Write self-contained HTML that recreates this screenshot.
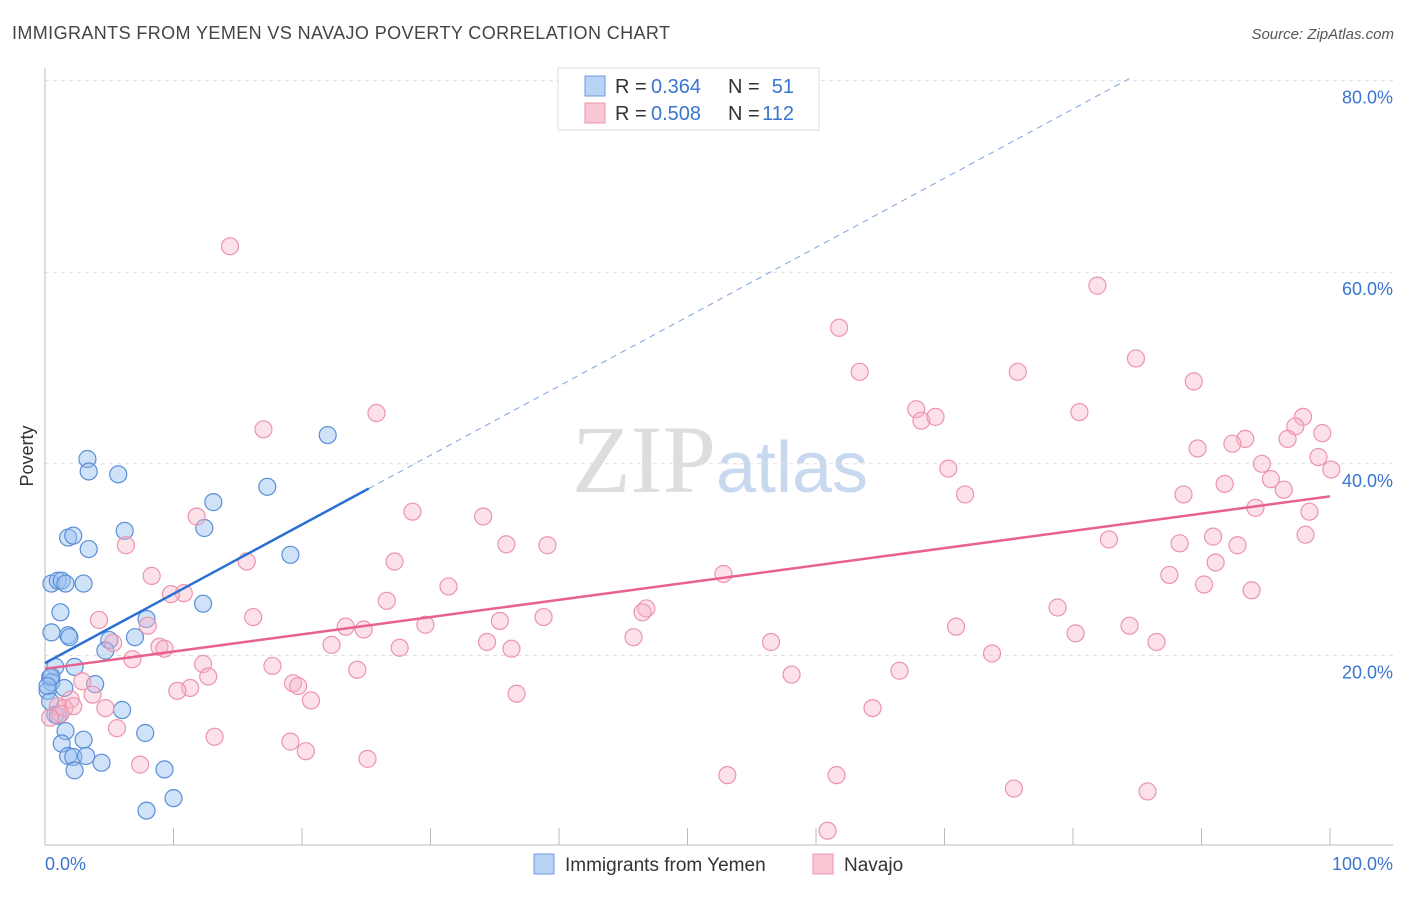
<!DOCTYPE html>
<html><head><meta charset="utf-8">
<style>
body{margin:0;background:#fff;font-family:"Liberation Sans",sans-serif}
</style></head>
<body>
<svg id="chart" width="1406" height="892" xmlns="http://www.w3.org/2000/svg" font-family="Liberation Sans, sans-serif">
<text x="12" y="39" font-size="18" fill="#444" textLength="658">IMMIGRANTS FROM YEMEN VS NAVAJO POVERTY CORRELATION CHART</text>
<text x="1394" y="39" font-size="15" fill="#555" text-anchor="end" font-style="italic">Source: ZipAtlas.com</text>
<text x="720" y="492" font-size="96" text-anchor="middle" fill="#ddd" font-family="Liberation Serif, serif">ZIP<tspan fill="#c8d8ee" font-family="Liberation Sans, sans-serif" font-size="72">atlas</tspan></text>
<g id="grid"></g>
<g id="axes"></g>
<g id="marks"></g>
<text transform="translate(33,456) rotate(-90)" font-size="18" fill="#333" text-anchor="middle">Poverty</text>
<g>
<rect x="558" y="68" width="261" height="62" fill="#fff" stroke="#ddd"/>
<rect x="585" y="76" width="20" height="20" fill="#b9d3f5" stroke="#6a9be0"/>
<rect x="585" y="103" width="20" height="20" fill="#f9c6d4" stroke="#ec94ae"/>
<text x="615" y="93" font-size="20" fill="#333">R =</text>
<text x="651" y="93" font-size="20" fill="#3a75d0">0.364</text>
<text x="728" y="93" font-size="20" fill="#333">N =</text>
<text x="794" y="93" font-size="20" fill="#3a75d0" text-anchor="end">51</text>
<text x="615" y="120" font-size="20" fill="#333">R =</text>
<text x="651" y="120" font-size="20" fill="#3a75d0">0.508</text>
<text x="728" y="120" font-size="20" fill="#333">N =</text>
<text x="794" y="120" font-size="20" fill="#3a75d0" text-anchor="end">112</text>
</g>
<g>
<rect x="534" y="854" width="20" height="20" fill="#b9d3f5" stroke="#6a9be0"/>
<text x="565" y="871" font-size="19" fill="#333">Immigrants from Yemen</text>
<rect x="813" y="854" width="20" height="20" fill="#f9c6d4" stroke="#ec94ae"/>
<text x="844" y="871" font-size="19" fill="#333">Navajo</text>
</g>
</svg>
<script>
const yTicks=[20,40,60,80];
const yTickLabels=["20.0%","40.0%","60.0%","80.0%"];
const xEndLabels=["0.0%","100.0%"];
const blueX=[0.5,1,1.3,1.6,3,0.5,1.2,1.8,1.9,1.8,2.2,3.4,3.3,3.4,5.7,6.2,13.1,12.4,17.3,22,19.1,12.3,7.9,7,5,4.7,2.3,0.8,0.4,0.5,0.2,0.4,1.5,3.9,6,0.8,1,1.6,1.3,3,1.8,2.2,3.2,2.3,4.4,7.8,9.3,10,7.9,0.5,0.2];
const blueY=[27.5,27.8,27.8,27.5,27.5,22.4,24.5,22.1,21.9,32.3,32.5,31.1,40.5,39.2,38.9,33.0,36.0,33.3,37.6,43.0,30.5,25.4,23.8,21.9,21.6,20.5,18.8,18.8,17.7,17.2,16.3,15.2,16.6,17.0,14.3,13.8,13.7,12.1,10.8,11.2,9.5,9.4,9.5,8.0,8.8,11.9,8.1,5.1,3.8,17.8,16.8];
const pinkX=[14.4,81.9,61.8,84.9,63.4,75.7,89.4,25.8,67.8,68.2,69.3,80.5,97.9,97.3,99.4,96.7,93.4,92.4,89.7,99.1,94.7,95.4,100.1,70.3,17,71.6,88.6,91.8,96.4,94.2,98.4,28.6,34.1,35.9,39.1,11.8,6.3,82.8,88.3,90.9,92.8,98.1,91.1,15.7,27.2,87.5,90.2,93.9,52.8,31.4,26.6,10.8,9.8,16.2,38.8,35.4,46.8,46.5,4.2,8,23.4,24.8,29.6,78.8,70.9,84.4,80.2,86.5,56.5,45.8,34.4,36.3,27.6,22.3,8.9,9.3,5.3,6.8,73.7,12.3,17.7,24.3,12.7,19.3,19.7,11.3,10.3,3.7,2,20.7,36.7,58.1,66.5,2.9,1,1.5,2.2,4.7,1.2,0.4,5.6,13.2,19.1,20.3,25.1,7.4,53.1,61.6,64.4,75.4,85.8,60.9,8.3];
const pinkY=[62.7,58.6,54.2,51.0,49.6,49.6,48.6,45.3,45.7,44.5,44.9,45.4,44.9,43.9,43.2,42.6,42.6,42.1,41.6,40.7,40.0,38.4,39.4,39.5,43.6,36.8,36.8,37.9,37.3,35.4,35.0,35.0,34.5,31.6,31.5,34.5,31.5,32.1,31.7,32.4,31.5,32.6,29.7,29.8,29.8,28.4,27.4,26.8,28.5,27.2,25.7,26.5,26.4,24.0,24.0,23.6,24.9,24.5,23.7,23.1,23.0,22.7,23.2,25.0,23.0,23.1,22.3,21.4,21.4,21.9,21.4,20.7,20.8,21.1,20.9,20.7,21.3,19.6,20.2,19.1,18.9,18.5,17.8,17.1,16.8,16.6,16.3,15.9,15.4,15.3,16.0,18.0,18.4,17.3,14.7,14.5,14.7,14.5,13.9,13.5,12.4,11.5,11.0,10.0,9.2,8.6,7.5,7.5,14.5,6.1,5.8,1.7,28.3];
const X0=45,X1=1330,Y0=847,PPY=9.58;
const sx=v=>X0+(X1-X0)*v/100, sy=v=>Y0-v*PPY;
const NS="http://www.w3.org/2000/svg";
function mk(tag,attrs,parent){const e=document.createElementNS(NS,tag);for(const k in attrs)e.setAttribute(k,attrs[k]);parent.appendChild(e);return e;}
const grid=document.getElementById('grid'),axes=document.getElementById('axes'),marks=document.getElementById('marks');
yTicks.forEach((t,i)=>{
 const l=mk('line',{x1:45,x2:1393,y1:sy(t),y2:sy(t),stroke:'#ddd','stroke-dasharray':'4,4'},grid);
 
 
 const tx=mk('text',{x:1393,y:sy(t)+23,'font-size':18,fill:'#3a75d0','text-anchor':'end'},axes);
 tx.textContent=yTickLabels[i];
 
 
});
const xa=mk('line',{x1:45,x2:1393,y1:845,y2:845,stroke:'#bbb'},axes);


const ya=mk('line',{x1:45,x2:45,y1:68,y2:845,stroke:'#bbb'},axes);


for(let i=0;i<=10;i++){const t=mk('line',{x1:sx(i*10),x2:sx(i*10),y1:828,y2:845,stroke:'#bbb'},axes);
 
 }
[[45,'start'],[1393,'end']].forEach((p,i)=>{const t=mk('text',{x:p[0],y:870,'font-size':18,fill:'#3a75d0','text-anchor':p[1]},axes);t.textContent=xEndLabels[i];
 
 });
blueX.forEach((v,i)=>{const c=mk('circle',{cx:sx(v),cy:sy(blueY[i]),r:8.5,fill:'rgba(150,190,240,0.45)',stroke:'#5a8ed8','stroke-width':1.2},marks);
 
 });
pinkX.forEach((v,i)=>{const c=mk('circle',{cx:sx(v),cy:sy(pinkY[i]),r:8.5,fill:'rgba(248,180,200,0.4)',stroke:'#ec94ae','stroke-width':1.2},marks);
 
 });
const bl=(x)=>19.2+0.723*x, pl=(x)=>18.6+0.18*x;
let e=mk('line',{x1:sx(25.2),y1:sy(bl(25.2)),x2:sx(84.4),y2:sy(bl(84.4)),stroke:'#7aa3dd','stroke-width':1,'stroke-dasharray':'6,5'},marks);


e=mk('line',{x1:sx(0),y1:sy(bl(0)),x2:sx(25.2),y2:sy(bl(25.2)),stroke:'#2a6fd4','stroke-width':2.5},marks);


e=mk('line',{x1:sx(0),y1:sy(pl(0)),x2:sx(100),y2:sy(pl(100)),stroke:'#e8628d','stroke-width':2.5},marks);


</script>
</body></html>
